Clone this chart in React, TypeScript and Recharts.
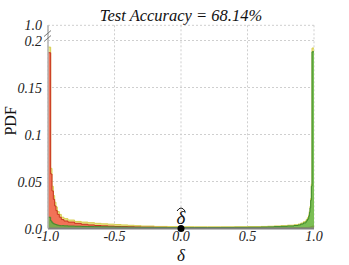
import React from "react";
import {
  ComposedChart,
  Area,
  XAxis,
  YAxis,
  CartesianGrid,
  ReferenceDot,
} from "recharts";

// bin left edges (delta)
const binX = [
  -1.0, -0.98, -0.97, -0.96, -0.95, -0.94, -0.93, -0.915, -0.9, -0.88,
  -0.85, -0.8, -0.75, -0.7, -0.65, -0.6, -0.55, -0.5, -0.45, -0.4, -0.35, -0.3,
  -0.2, -0.1, 0.0, 0.1, 0.2, 0.3, 0.4, 0.5, 0.6, 0.65, 0.7, 0.75, 0.8, 0.85,
  0.88, 0.9, 0.92, 0.94, 0.95, 0.96, 0.965, 0.97, 0.975, 0.98, 0.985, 1.0,
];
// misclassified samples (red)
const wrongPdf = [
  0.187, 0.058, 0.04, 0.031, 0.024, 0.019, 0.015, 0.012, 0.0095, 0.008,
  0.0068, 0.0055, 0.0045, 0.0038, 0.0032, 0.0028, 0.0025, 0.0022, 0.002, 0.0018,
  0.0016, 0.0014, 0.0012, 0.001, 0.0009, 0.0008, 0.0008, 0.0007, 0.0007, 0.0007,
  0.0007, 0.0007, 0.0007, 0.0008, 0.0008, 0.0009, 0.0009, 0.001, 0.001, 0.0011,
  0.0012, 0.0013, 0.0014, 0.0015, 0.0018, 0.002, 0.0025, 0.0025,
];
// correctly classified samples (green)
const rightPdf = [
  0.012, 0.008, 0.006, 0.005, 0.0045, 0.004, 0.0035, 0.003, 0.003, 0.0028,
  0.0026, 0.0024, 0.0022, 0.002, 0.0019, 0.0018, 0.0017, 0.0016, 0.0015, 0.0014,
  0.0013, 0.0012, 0.0011, 0.001, 0.001, 0.001, 0.001, 0.0011, 0.0012, 0.0013,
  0.0015, 0.0017, 0.002, 0.0023, 0.0027, 0.0032, 0.0038, 0.0048, 0.006, 0.008,
  0.01, 0.013, 0.017, 0.022, 0.03, 0.045, 0.188, 0.188,
];
// all samples (yellow)
const totalPdf = [
  0.193, 0.064, 0.045, 0.035, 0.028, 0.023, 0.018, 0.015, 0.012, 0.0105,
  0.009, 0.0075, 0.0068, 0.0062, 0.0055, 0.005, 0.0046, 0.0042, 0.0038, 0.0034,
  0.003, 0.0026, 0.0022, 0.002, 0.0019, 0.0018, 0.0018, 0.0018, 0.0019, 0.002,
  0.0022, 0.0024, 0.0027, 0.003, 0.0035, 0.004, 0.0047, 0.0058, 0.0072, 0.0093,
  0.0115, 0.0145, 0.0186, 0.0237, 0.032, 0.047, 0.192, 0.192,
];

const xTicks = [-1.0, -0.5, 0.0, 0.5, 1.0];
const yTicks = [0, 0.05, 0.1, 0.15, 0.2, 0.2162];
const yTickLabels = ["0.0", "0.05", "0.1", "0.15", "0.2", "1.0"];
const deltaHat = 0.0;
const title = "Test Accuracy = 68.14%";

const data = binX.map((x, i) => ({
  x,
  total: totalPdf[i],
  wrong: wrongPdf[i],
  right: rightPdf[i],
}));

const FONT = "Liberation Serif";

function YTick(props: any) {
  const { x, y, payload } = props;
  const idx = yTicks.indexOf(payload.value);
  const label = yTickLabels[idx];
  const ax = x + 6;
  return (
    <g>
      <text
        x={x}
        y={y}
        dy="0.36em"
        textAnchor="end"
        style={{ fontFamily: FONT, fontStyle: "italic", fontSize: 14 }}
        fill="#222"
      >
        {label}
      </text>
      {payload.value === 0.2 && (
        <g stroke="#777" strokeWidth={1}>
          <line x1={ax - 4} y1={y + 1} x2={ax + 3} y2={y - 5} />
          <line x1={ax - 4} y1={y - 4} x2={ax + 3} y2={y - 10} />
        </g>
      )}
    </g>
  );
}

function XTick(props: any) {
  const { x, y, payload } = props;
  return (
    <text
      x={x}
      y={y}
      dy="0.71em"
      textAnchor="middle"
      style={{ fontFamily: FONT, fontStyle: "italic", fontSize: 14 }}
      fill="#222"
    >
      {Number(payload.value).toFixed(1)}
    </text>
  );
}

export default function App() {
  return (
    <div style={{ position: "absolute", left: 0, top: 0, width: 349, height: 265 }}>
      <div
        style={{
          position: "absolute",
          top: 8,
          left: 48,
          width: 266,
          textAlign: "center",
          fontFamily: FONT,
          fontStyle: "italic",
          fontSize: 16.5,
          lineHeight: 1,
          color: "#111",
        }}
      >
        {title}
      </div>
      <ComposedChart
        width={349}
        height={265}
        data={data}
        margin={{ top: 25.3, right: 35, bottom: 0, left: 0 }}
      >
        <CartesianGrid stroke="#cfcfcf" strokeDasharray="2 2" />
        <XAxis
          type="number"
          dataKey="x"
          domain={[-1, 1]}
          ticks={xTicks}
          interval={0}
          allowDataOverflow
          height={36.5}
          tickSize={0}
          tickMargin={3}
          tick={<XTick />}
          axisLine={{ stroke: "#808080", strokeWidth: 2 }}
          label={(p: any) => {
            const vb = p.viewBox;
            return (
              <text
                x={vb.x + vb.width / 2}
                y={vb.y + vb.height - 4}
                textAnchor="middle"
                style={{ fontFamily: FONT, fontStyle: "italic", fontSize: 17 }}
                fill="#111"
              >
                δ
              </text>
            );
          }}
        />
        <YAxis
          type="number"
          domain={[0, 0.2162]}
          ticks={yTicks}
          interval={0}
          allowDataOverflow
          width={48}
          tickSize={0}
          tickMargin={6}
          tick={<YTick />}
          axisLine={{ stroke: "#b4b4b4", strokeWidth: 1.5 }}
          label={(p: any) => {
            const vb = p.viewBox;
            const cx = vb.x + 11;
            const cy = vb.y + vb.height / 2 - 6;
            return (
              <text
                x={cx}
                y={cy}
                transform={`rotate(-90, ${cx}, ${cy})`}
                textAnchor="middle"
                dominantBaseline="central"
                style={{ fontFamily: FONT, fontSize: 16 }}
                fill="#111"
              >
                PDF
              </text>
            );
          }}
        />
        <Area
          type="stepAfter"
          dataKey="total"
          stroke="#d6cd4e"
          strokeWidth={1}
          fill="#e4df74"
          fillOpacity={0.9}
          isAnimationActive={false}
          dot={false}
          activeDot={false}
        />
        <Area
          type="stepAfter"
          dataKey="wrong"
          stroke="#c8331f"
          strokeWidth={1}
          fill="#f26652"
          fillOpacity={0.9}
          isAnimationActive={false}
          dot={false}
          activeDot={false}
        />
        <Area
          type="stepAfter"
          dataKey="right"
          stroke="#3d8a2c"
          strokeWidth={1}
          fill="#5fb548"
          fillOpacity={0.8}
          isAnimationActive={false}
          dot={false}
          activeDot={false}
        />
        <ReferenceDot
          x={deltaHat}
          y={0}
          r={3.5}
          fill="#000"
          stroke="none"
          label={(p: any) => {
            const vb = p.viewBox;
            const cx = vb.x + vb.width / 2;
            const base = vb.y - 1;
            return (
              <g>
                <text
                  x={cx}
                  y={base}
                  textAnchor="middle"
                  style={{ fontFamily: FONT, fontStyle: "italic", fontSize: 19 }}
                  fill="#111"
                >
                  δ
                </text>
                <path
                  d={`M ${cx - 4} ${base - 13} Q ${cx} ${base - 19} ${cx + 4} ${base - 13}`}
                  stroke="#111"
                  strokeWidth={1}
                  fill="none"
                />
              </g>
            );
          }}
        />
      </ComposedChart>
    </div>
  );
}
